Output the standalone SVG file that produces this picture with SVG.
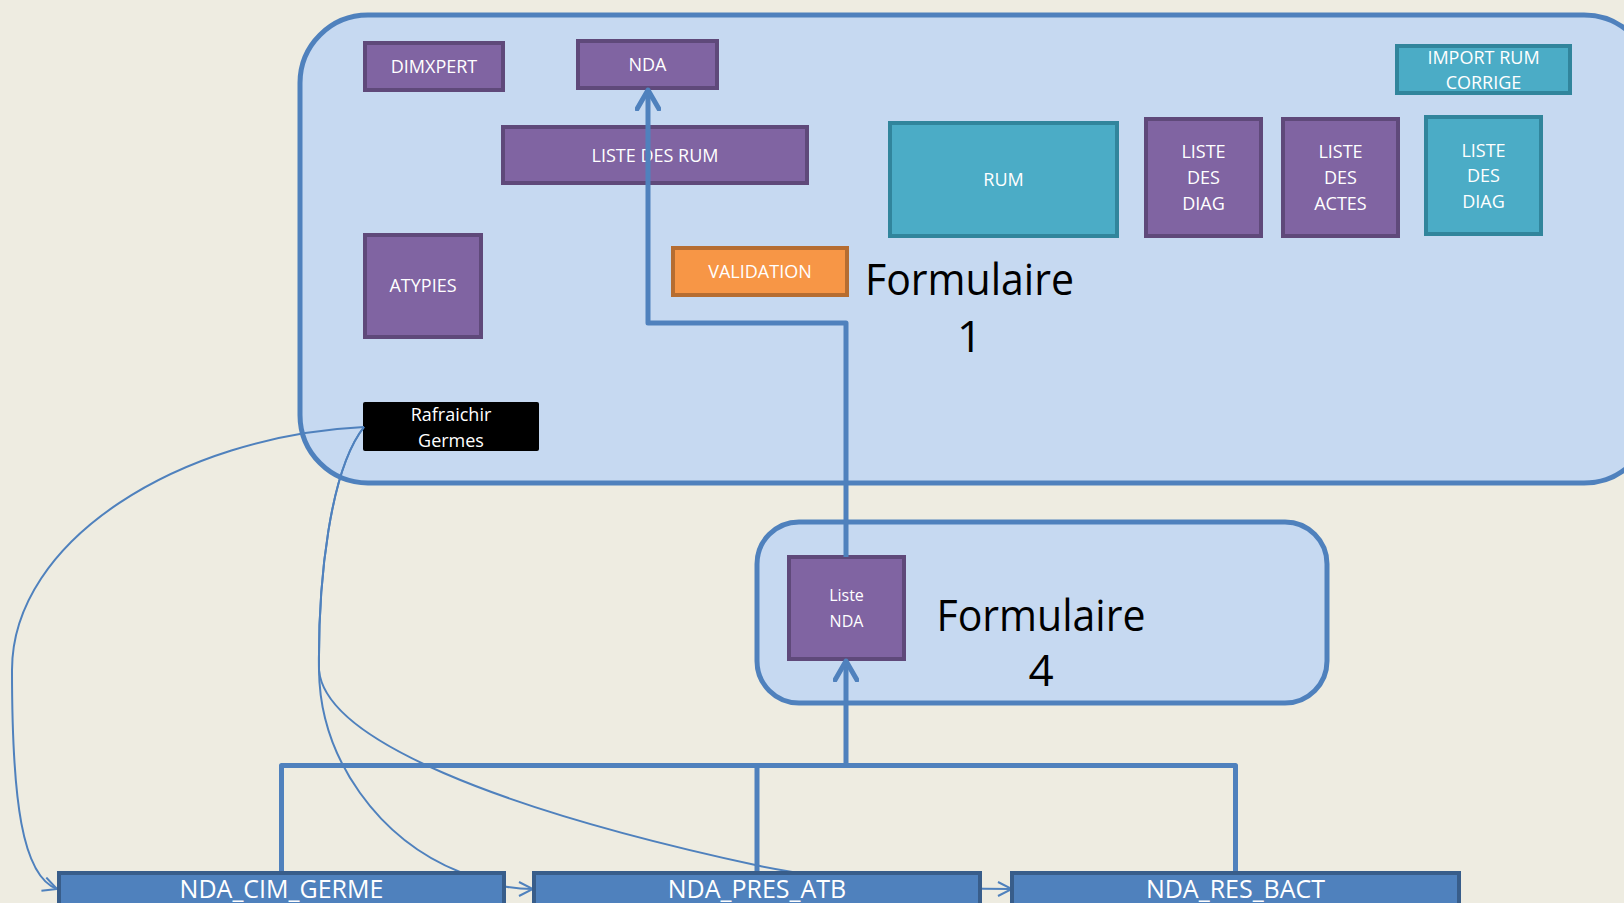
<svg xmlns="http://www.w3.org/2000/svg" width="1624" height="903" viewBox="0 0 1624 903">
<defs>
<style>
.bg{fill:#eeece1}
.cont{fill:#c6d9f1;stroke:#4f81bd;stroke-width:5}
.pur{fill:#8064a2;stroke:#5f497a;stroke-width:4}
.teal{fill:#4bacc6;stroke:#31859c;stroke-width:4}
.org{fill:#f79646;stroke:#b66d31;stroke-width:4}
.blu{fill:#4f81bd;stroke:#385d8a;stroke-width:4}
.blk{fill:#000000}
.t{font-family:"Open Sans","Liberation Sans",sans-serif;font-size:18px;fill:#ffffff;text-anchor:middle}
.ts{font-family:"Open Sans","Liberation Sans",sans-serif;font-size:16px;fill:#ffffff;text-anchor:middle}
.tb{font-family:"Open Sans","Liberation Sans",sans-serif;font-size:25px;fill:#ffffff;text-anchor:middle}
.big{font-family:"Open Sans","Liberation Sans",sans-serif;font-size:44px;fill:#000000;text-anchor:middle}
.thick{fill:none;stroke:#4f81bd;stroke-width:5;stroke-linejoin:round}
.thin{fill:none;stroke:#4f81bd;stroke-width:2}
</style>
<marker id="chev" viewBox="0 0 24 26" refX="21" refY="13" markerWidth="24" markerHeight="26" orient="auto" markerUnits="userSpaceOnUse">
<path d="M2,2 L21,13 L2,24" fill="none" stroke="#4f81bd" stroke-width="5" stroke-linecap="round" stroke-linejoin="round"/>
</marker>
<marker id="open" viewBox="0 0 16 16" refX="15" refY="8" markerWidth="16" markerHeight="16" orient="auto" markerUnits="userSpaceOnUse">
<path d="M1,1 L15,8 L1,15" fill="none" stroke="#4f81bd" stroke-width="2"/>
</marker>
</defs>
<rect class="bg" x="0" y="0" width="1624" height="903"/>

<g id="formulaire1">
<rect class="cont" x="300" y="15" width="1352" height="468" rx="68" ry="68"/>
<text class="big" x="969.5" y="295" textLength="209" lengthAdjust="spacingAndGlyphs">Formulaire</text>
<text class="big" x="969.5" y="352">1</text>
</g>
<g id="formulaire4">
<rect class="cont" x="757" y="522" width="570" height="181" rx="42" ry="42"/>
<text class="big" x="1041" y="631" textLength="209" lengthAdjust="spacingAndGlyphs">Formulaire</text>
<text class="big" x="1041" y="686">4</text>
</g>

<g id="dimxpert"><rect class="pur" x="365" y="43" width="138" height="47"/><text class="t" x="434" y="72.5">DIMXPERT</text></g>
<g id="nda"><rect class="pur" x="578" y="41" width="139" height="47"/><text class="t" x="647.5" y="70.5">NDA</text></g>
<g id="liste-des-rum"><rect class="pur" x="503" y="127" width="304" height="56"/><text class="t" x="655" y="161.5">LISTE DES RUM</text></g>
<g id="atypies"><rect class="pur" x="365" y="235" width="116" height="102"/><text class="t" x="423" y="291.5">ATYPIES</text></g>
<g id="validation"><rect class="org" x="673" y="248" width="174" height="47"/><text class="t" x="760" y="277.5">VALIDATION</text></g>
<g id="rum"><rect class="teal" x="890" y="123" width="227" height="113"/><text class="t" x="1003.5" y="185.5">RUM</text></g>
<g id="liste-des-diag-1"><rect class="pur" x="1146" y="119" width="115" height="117"/><text class="t" x="1203.5" y="157.5">LISTE</text><text class="t" x="1203.5" y="183.5">DES</text><text class="t" x="1203.5" y="209.5">DIAG</text></g>
<g id="liste-des-actes"><rect class="pur" x="1283" y="119" width="115" height="117"/><text class="t" x="1340.5" y="157.5">LISTE</text><text class="t" x="1340.5" y="183.5">DES</text><text class="t" x="1340.5" y="209.5">ACTES</text></g>
<g id="liste-des-diag-2"><rect class="teal" x="1426" y="117" width="115" height="117"/><text class="t" x="1483.5" y="156.5">LISTE</text><text class="t" x="1483.5" y="181.5">DES</text><text class="t" x="1483.5" y="207.5">DIAG</text></g>
<g id="import-rum-corrige"><rect class="teal" x="1397" y="46" width="173" height="47"/><text class="t" x="1483.5" y="63.5">IMPORT RUM</text><text class="t" x="1483.5" y="88.5">CORRIGE</text></g>
<g id="rafraichir-germes"><rect class="blk" x="363" y="402" width="176" height="49" rx="2"/><text class="t" x="451" y="420.5">Rafraichir</text><text class="t" x="451" y="446.5">Germes</text></g>
<g id="liste-nda"><rect class="pur" x="789" y="557" width="115" height="102"/><text class="ts" x="846.5" y="601">Liste</text><text class="ts" x="846.5" y="627">NDA</text></g>

<g id="connectors">
<path class="thick" d="M846 557 V323 H648 V90" marker-end="url(#chev)"/>
<path class="thick" d="M281.5 873 V765.5 H1235.5 V873"/>
<path class="thick" d="M757 873 V765.5"/>
<path class="thick" d="M846 765.5 V661" marker-end="url(#chev)"/>
<path class="thin" d="M364 427 C180 436 12 540 12 670 C12 800 22 876 57 889" marker-end="url(#open)"/>
<path class="thin" d="M364 427 C330 470 318 580 319 670 C320 760 380 840 460 872 C490 885 510 889 533 889" marker-end="url(#open)"/>
<path class="thin" d="M364 427 C330 470 318 580 319 670 C325 740 500 810 760 866 C850 884 950 889 1012 889" marker-end="url(#open)"/>
</g>

<g id="nda-cim-germe"><rect class="blu" x="59" y="873" width="445" height="40"/><text class="tb" x="281.5" y="898">NDA_CIM_GERME</text></g>
<g id="nda-pres-atb"><rect class="blu" x="534" y="873" width="446" height="40"/><text class="tb" x="757" y="898">NDA_PRES_ATB</text></g>
<g id="nda-res-bact"><rect class="blu" x="1012" y="873" width="447" height="40"/><text class="tb" x="1235.5" y="898">NDA_RES_BACT</text></g>
</svg>
